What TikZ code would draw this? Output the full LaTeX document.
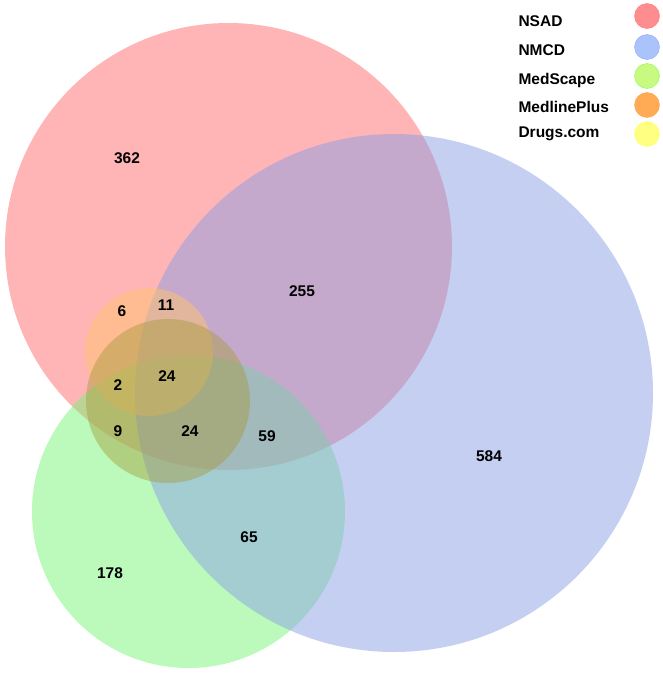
\documentclass[tikz,border=0pt]{standalone}
\usepackage{fontspec}
\setmainfont{Liberation Sans}
\usetikzlibrary{positioning}
\definecolor{nsadcol}{RGB}{255,105,110}
\definecolor{nmcdcol}{RGB}{140,160,228}
\definecolor{medscapecol}{RGB}{120,245,120}
\definecolor{medlinecol}{RGB}{255,195,110}
\definecolor{drugscol}{RGB}{165,155,60}
\definecolor{knsad}{RGB}{255,140,142}
\definecolor{knmcd}{RGB}{170,195,250}
\definecolor{kmedscape}{RGB}{200,250,130}
\definecolor{kmedline}{RGB}{255,170,85}
\definecolor{kdrugs}{RGB}{255,255,130}

\begin{document}
\begin{tikzpicture}[x=1pt,y=-1pt,
	set/.style={circle, fill opacity=0.5, inner sep=0pt},
	num/.style={font=\fontsize{15.5}{18}\selectfont\bfseries},
	key/.style={font=\fontsize{15.5}{18}\selectfont\bfseries, anchor=base west},
	dot/.style={circle, minimum size=25pt, inner sep=0pt}]
	\useasboundingbox (0,0) rectangle (663,675);
	% the five sets
	\node[set, fill=nsadcol, minimum size=447pt] (nsad) at (228.5,246.5) {};
	\node[set, fill=medscapecol, minimum size=313pt] (medscape) at (188.5,511.5) {};
	\node[set, fill=nmcdcol, minimum size=518pt] (nmcd) at (394,393) {};
	\node[set, fill=medlinecol, minimum size=128pt] (medline) at (149,352) {};
	\node[set, fill=drugscol, fill opacity=0.45, minimum size=164pt] (drugs) at (168,401) {};
	% counts
	\node[num] (n362) at (127,158) {362};
	\node[num] (n255) at (302,291) {255};
	\node[num] (n6) at (122,311) {6};
	\node[num] (n11) at (166,305) {11};
	\node[num] (n2) at (118,385) {2};
	\node[num] (n24a) at (167,376) {24};
	\node[num] (n9) at (118,431) {9};
	\node[num] (n24b) at (190,431) {24};
	\node[num] (n59) at (267,436) {59};
	\node[num] (n584) at (489,456) {584};
	\node[num] (n65) at (249,537) {65};
	\node[num] (n178) at (110,573) {178};
	% legend
	\node[key] (lnsad) at (515,26.7) {NSAD};
	\node[key] (lnmcd) at (515,55.5) {NMCD};
	\node[key] (lmedscape) at (515,84) {MedScape};
	\node[key] (lmedline) at (515,112) {MedlinePlus};
	\node[key] (ldrugs) at (515,137.5) {Drugs.com};
	\node[dot, fill=knsad, draw=knsad!85!red] (dnsad) at (647,16) {};
	\node[dot, fill=knmcd, draw=knmcd!85!blue] (dnmcd) at (647,47) {};
	\node[dot, fill=kmedscape, draw=kmedscape!70!green] (dmedscape) at (647,76) {};
	\node[dot, fill=kmedline, draw=kmedline!85!orange] (dmedline) at (647,105) {};
	\node[dot, fill=kdrugs, draw=kdrugs!85!yellow] (ddrugs) at (647,134) {};
\end{tikzpicture}
\end{document}
